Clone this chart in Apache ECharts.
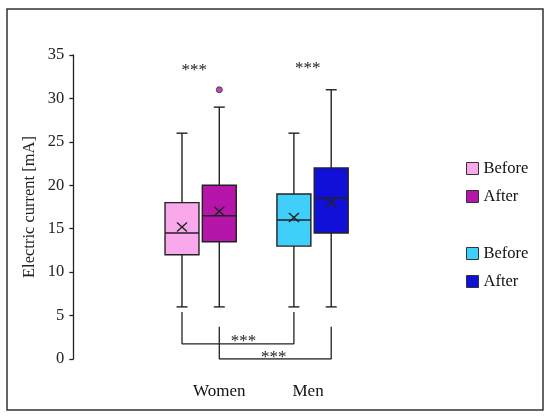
<!DOCTYPE html>
<html><head><meta charset="utf-8">
<script src="https://cdn.jsdelivr.net/npm/echarts@6/dist/echarts.min.js"></script>
<style>html,body{margin:0;padding:0;background:#fff}#c{width:550px;height:416px}</style>
</head><body><div id="c"></div>
<script>
// category slots along the x axis (third slot is the gap between groups)
const slots = ['Women Before', 'Women After', '', 'Men Before', 'Men After'];
const groupLabels = ['Women', 'Men'];
const groupLabelSlots = [1.0, 3.38];
const seriesNames = ['Women Before', 'Women After', 'Men Before', 'Men After'];
const seriesColors = ['#F9A8EC', '#B515A8', '#40CFFA', '#1010D8'];
// [slot, min, q1, median, q3, max, mean]
const womenBefore = [0, 6, 12, 14.5, 18, 26, 15.2];
const womenAfter  = [1, 6, 13.5, 16.5, 20, 29, 17.0];
const menBefore   = [3, 6, 13, 16, 19, 26, 16.3];
const menAfter    = [4, 6, 14.5, 18.5, 22, 31, 18.0];
const outliers = [[1, 31]];
const yMin = 0, yMax = 35, yStep = 5;
// significance annotations
const topStars = [[0.33, 33.2], [3.37, 33.4]];
const bracket1 = [[0, 5.4], [0, 1.75], [3, 1.75], [3, 5.4]];
const bracket2 = [[1, 3.7], [1, 0], [4, 0], [4, 3.7]];
const bracketStars = [[1.65, 2.0], [2.46, 0.15]];

const FONT = 'Liberation Serif';
const INK = '#222';

function renderBox(params, api) {
  const x = api.value(0);
  const c = i => api.coord([x, api.value(i)]);
  const pMin = c(1), pQ1 = c(2), pMed = c(3), pQ3 = c(4), pMax = c(5), pMean = c(6);
  const band = api.size([1, 0])[0];
  const hw = band * 0.455, cap = 5.5, xs = 5, ys = 4.5;
  const cx = pMed[0];
  const st = {stroke: INK, lineWidth: 1.4};
  const ln = (x1, y1, x2, y2) => ({type: 'line', shape: {x1, y1, x2, y2}, style: st});
  return {type: 'group', children: [
    ln(cx, pMax[1], cx, pQ3[1]),
    ln(cx, pQ1[1], cx, pMin[1]),
    ln(cx - cap, pMax[1], cx + cap, pMax[1]),
    ln(cx - cap, pMin[1], cx + cap, pMin[1]),
    {type: 'rect', shape: {x: cx - hw, y: pQ3[1], width: hw * 2, height: pQ1[1] - pQ3[1]},
     style: {fill: api.visual('color'), stroke: INK, lineWidth: 1.4}},
    ln(cx - hw, pMed[1], cx + hw, pMed[1]),
    ln(pMean[0] - xs, pMean[1] - ys, pMean[0] + xs, pMean[1] + ys),
    ln(pMean[0] - xs, pMean[1] + ys, pMean[0] + xs, pMean[1] - ys)
  ]};
}

const boxData = [womenBefore, womenAfter, menBefore, menAfter];
const chart = echarts.init(document.getElementById('c'));
const legendCommon = {
  orient: 'vertical', left: 461, itemWidth: 12, itemHeight: 12, itemGap: 11,
  icon: 'rect', selectedMode: false,
  itemStyle: {borderColor: '#333', borderWidth: 1},
  textStyle: {fontFamily: FONT, fontSize: 16.5, color: '#111'},
  formatter: n => n.split(' ')[1]
};
chart.setOption({
  animation: false,
  backgroundColor: '#fff',
  grid: {left: 163.35, width: 186.5, top: 55, height: 304},
  legend: [
    Object.assign({top: 155, data: seriesNames.slice(0, 2)}, legendCommon),
    Object.assign({top: 240, data: seriesNames.slice(2, 4)}, legendCommon)
  ],
  xAxis: {type: 'category', data: slots, axisLine: {show: false}, axisTick: {show: false},
    axisLabel: {show: false}, splitLine: {show: false}},
  yAxis: {type: 'value', min: yMin, max: yMax, interval: yStep, offset: 90,
    axisLine: {show: true, lineStyle: {color: INK, width: 1.3}},
    axisTick: {show: true, length: 4, lineStyle: {color: INK, width: 1.3}},
    axisLabel: {fontFamily: FONT, fontSize: 16.5, color: '#222', margin: 9},
    splitLine: {show: false},
    name: 'Electric current [mA]', nameLocation: 'middle', nameGap: 35,
    nameTextStyle: {fontFamily: FONT, fontSize: 16.5, color: '#222'}},
  series: boxData.map((d, i) => ({
    type: 'custom', name: seriesNames[i], renderItem: renderBox,
    itemStyle: {color: seriesColors[i], borderColor: '#333'},
    encode: {x: 0, y: [1, 2, 3, 4, 5]}, data: [d], z: 3
  })).concat([
    {type: 'scatter', name: 'outlier', data: outliers, symbol: 'circle', symbolSize: 6,
     itemStyle: {color: seriesColors[1], borderColor: '#333', borderWidth: 1}, z: 4},
    {type: 'line', name: 'b1', data: bracket1, symbol: 'none', silent: true,
     lineStyle: {color: INK, width: 1.3}},
    {type: 'line', name: 'b2', data: bracket2, symbol: 'none', silent: true,
     lineStyle: {color: INK, width: 1.3}}
  ])
});

function px(slot, val) {
  const i0 = Math.floor(slot), t = slot - i0;
  const a = chart.convertToPixel({xAxisIndex: 0, yAxisIndex: 0}, [i0, val]);
  const b = chart.convertToPixel({xAxisIndex: 0, yAxisIndex: 0}, [i0 + 1, val]);
  return [a[0] + (b[0] - a[0]) * t, a[1]];
}
const g = [{type: 'rect', shape: {x: 7, y: 9, width: 536, height: 401},
  style: {fill: 'none', stroke: '#333', lineWidth: 1.5}, z: 10}];
topStars.concat(bracketStars).forEach(([s, v]) => {
  const p = px(s, v);
  g.push({type: 'text', x: p[0], y: p[1], z: 10,
    style: {text: '***', fontFamily: FONT, fontSize: 17, fill: '#222', align: 'center', verticalAlign: 'middle'}});
});
groupLabels.forEach((lab, i) => {
  const p = px(groupLabelSlots[i], 0);
  g.push({type: 'text', x: p[0], y: 392, z: 10,
    style: {text: lab, fontFamily: FONT, fontSize: 17, fill: '#111', align: 'center', verticalAlign: 'middle'}});
});
chart.setOption({graphic: g});
</script></body></html>
